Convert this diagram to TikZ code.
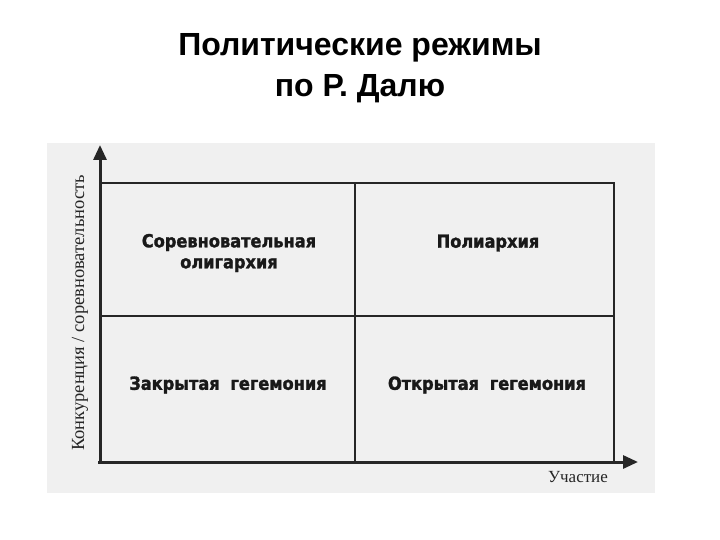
\documentclass[tikz,border=0pt]{standalone}
\usepackage{fontspec}
\setmainfont{Liberation Serif}
\newfontfamily\titlefont{Liberation Sans}
\newfontfamily\regimefont{DejaVu Sans Condensed}[BoldFeatures={FakeBold=1.6}]
\usetikzlibrary{arrows.meta}
\tikzset{
	axis/.style={line width=3pt, black!85, -{Triangle[length=15pt,width=13pt]}},
	cell/.style={line width=1.2pt, black!85},
	regime/.style={font=\regimefont\bfseries\fontsize{18}{21}\selectfont, align=center, text=black!90},
}
\begin{document}
\begin{tikzpicture}[x=1pt, y=-1pt]
		\useasboundingbox (0,0) rectangle (720,540);
		\fill[white] (0,0) rectangle (720,540);
		\fill[gray!12] (47,143) rectangle (655,493);
		\node[font=\titlefont\bfseries\fontsize{32}{41}\selectfont, align=center] (title) at (360,68) {Политические режимы\\по Р. Далю};
		% table
		\draw[cell] (100,183) -- (614,183) -- (614,462);
		\draw[cell] (355,183) -- (355,462);
		\draw[cell] (100,316) -- (614,316);
		\draw[axis] (100,464) -- (100,145);
		\draw[axis] (98,462) -- (638,462);
		\node[regime] (oligarchy) at (229,253) {Соревновательная\\олигархия};
		\node[regime] (polyarchy) at (488,243) {Полиархия};
		\node[regime] (closed) at (228,385) {Закрытая\hspace{0.6em}гегемония};
		\node[regime] (open) at (487,385) {Открытая\hspace{0.6em}гегемония};
		\node[font=\fontsize{17}{19}\selectfont, text=black!85] (participation) at (578,477) {Участие};
		\node[font=\fontsize{18.5}{20}\selectfont, text=black!85, rotate=90] (competition) at (80,313) {Конкуренция / соревновательность};
	\end{tikzpicture}
\end{document}
